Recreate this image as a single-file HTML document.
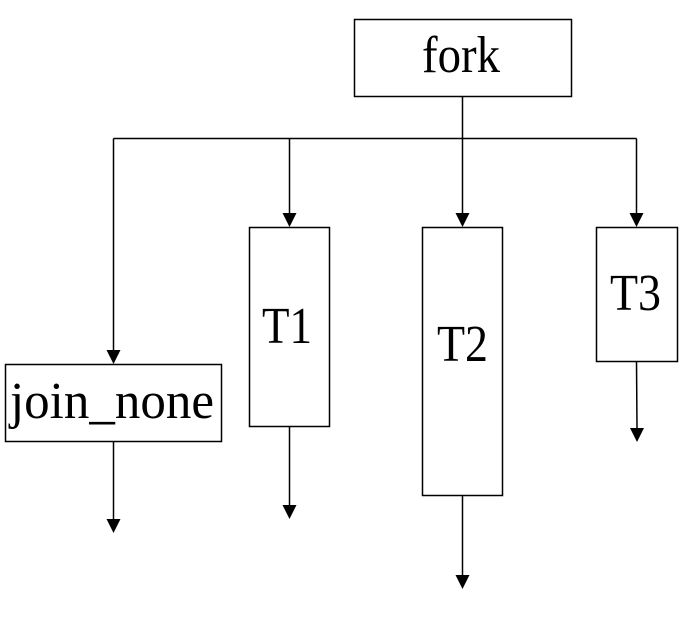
<!DOCTYPE html>
<html><head><meta charset="utf-8"><style>html,body{margin:0;padding:0;background:#fff}svg{display:block}</style></head>
<body>
<svg width="687" height="621" viewBox="0 0 687 621" xmlns="http://www.w3.org/2000/svg">
<defs><marker id="a" markerWidth="14" markerHeight="14" refX="7" refY="14" orient="auto" markerUnits="userSpaceOnUse" viewBox="0 0 14 14"><path d="M0,0 L14,0 L7,14 Z" fill="#000" transform="rotate(-90 7 7)"/></marker></defs>
<g fill="none" stroke="#000" stroke-width="1.5">
<rect x="354.5" y="19.5" width="217" height="77"/>
<rect x="249.5" y="227.5" width="80" height="199"/>
<rect x="422.5" y="227.5" width="80" height="268"/>
<rect x="596.5" y="227.5" width="81" height="134"/>
<rect x="5.5" y="364.5" width="216" height="77"/>
<path d="M462.5 96 V138.5 M113.5 138.5 H636.5"/>
</g>
<g stroke="#000" stroke-width="1.5" fill="#000">
<line x1="113.5" y1="138.5" x2="113.5" y2="350"/><path d="M106.5 350 L120.5 350 L113.5 364 Z" stroke="none"/>
<line x1="289.5" y1="138.5" x2="289.5" y2="213"/><path d="M282.5 213 L296.5 213 L289.5 227 Z" stroke="none"/>
<line x1="462.5" y1="138.5" x2="462.5" y2="213"/><path d="M455.5 213 L469.5 213 L462.5 227 Z" stroke="none"/>
<line x1="636.5" y1="138.5" x2="636.5" y2="213"/><path d="M629.5 213 L643.5 213 L636.5 227 Z" stroke="none"/>
<line x1="113.5" y1="441" x2="113.5" y2="519"/><path d="M106.5 519 L120.5 519 L113.5 533 Z" stroke="none"/>
<line x1="289.5" y1="426" x2="289.5" y2="505"/><path d="M282.5 505 L296.5 505 L289.5 519 Z" stroke="none"/>
<line x1="462.5" y1="495" x2="462.5" y2="575"/><path d="M455.5 575 L469.5 575 L462.5 589 Z" stroke="none"/>
<line x1="636.5" y1="361" x2="637" y2="428"/><path d="M630 428 L644 428 L637 442 Z" stroke="none"/>
</g>
<g font-family="Liberation Serif, serif" font-size="52" fill="#000">
<text x="422" y="72" textLength="78" lengthAdjust="spacingAndGlyphs">fork</text>
<text x="262" y="343" textLength="50" lengthAdjust="spacingAndGlyphs">T1</text>
<text x="437" y="361" textLength="51" lengthAdjust="spacingAndGlyphs">T2</text>
<text x="610" y="310" textLength="51" lengthAdjust="spacingAndGlyphs">T3</text>
<text x="10" y="418" textLength="204" lengthAdjust="spacingAndGlyphs">join_none</text>
</g>
</svg>
</body></html>
